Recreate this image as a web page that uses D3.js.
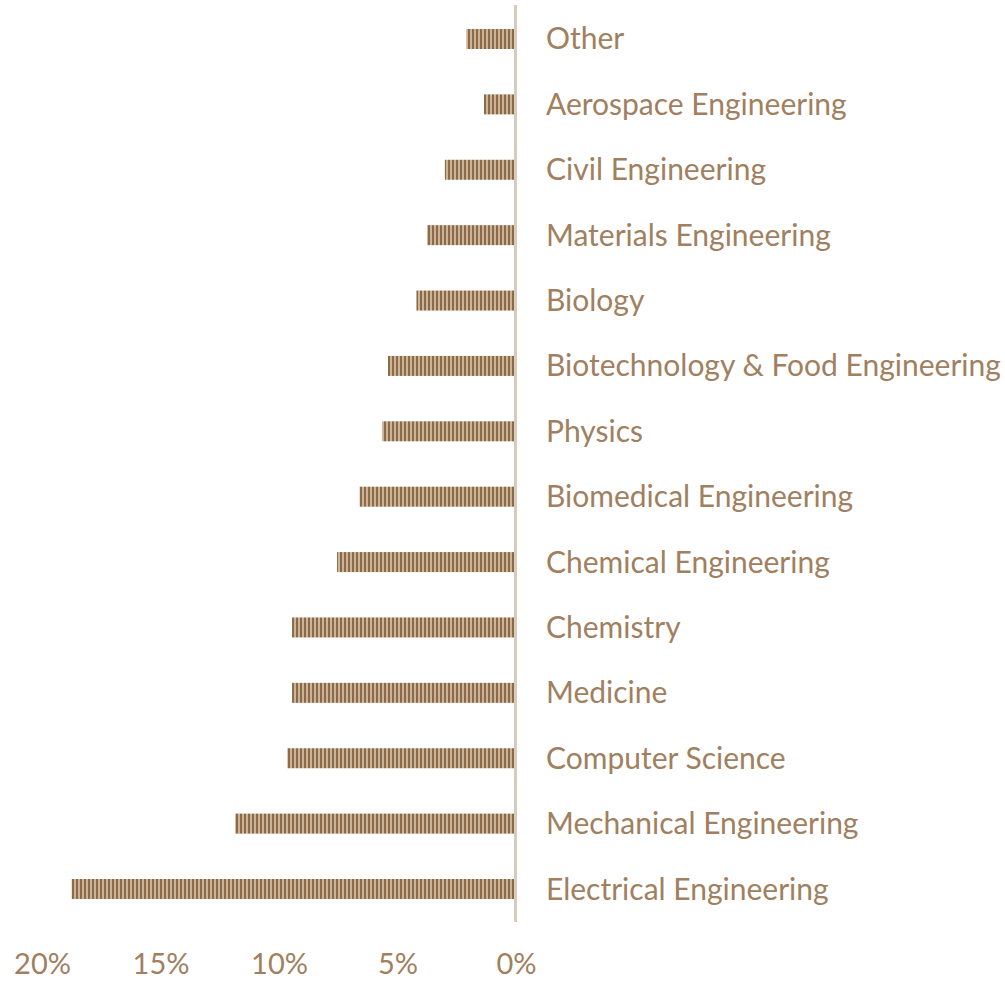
<!DOCTYPE html>
<html><head><meta charset="utf-8">
<script src="https://cdn.jsdelivr.net/npm/d3@7"></script>
<style>body{margin:0;background:#fff}svg{display:block}</style>
</head><body>
<script>
const categories = ["Other","Aerospace Engineering","Civil Engineering","Materials Engineering","Biology","Biotechnology & Food Engineering","Physics","Biomedical Engineering","Chemical Engineering","Chemistry","Medicine","Computer Science","Mechanical Engineering","Electrical Engineering"];
const values = [2.1,1.35,3.0,3.75,4.2,5.4,5.65,6.6,7.55,9.45,9.45,9.65,11.85,18.75];
const tickValues = [20,15,10,5,0];

const W=1005,H=981;
const svg=d3.select("body").append("svg").attr("width",W).attr("height",H);
const defs=svg.append("defs");
const pat=defs.append("pattern").attr("id","stripes").attr("patternUnits","userSpaceOnUse").attr("width",4).attr("height",4);
pat.append("rect").attr("width",4).attr("height",4).attr("fill","#cbb497");
pat.append("rect").attr("width",2).attr("height",4).attr("fill","#8a6a48");

const x=d3.scaleLinear().domain([0,20]).range([516,42]);
const y=d3.scaleBand().domain(categories).range([6.3,921.7]).paddingInner(0.694).paddingOuter(0.347);

svg.append("g").selectAll("rect").data(values).join("rect")
 .attr("x",d=>x(d)).attr("width",d=>x(0)-x(d))
 .attr("y",(d,i)=>y(categories[i])).attr("height",y.bandwidth())
 .attr("fill","url(#stripes)");

svg.append("line").attr("x1",515.5).attr("x2",515.5).attr("y1",5).attr("y2",922)
 .attr("stroke","#d9cbbb").attr("stroke-width",3);

svg.append("g").selectAll("text").data(categories).join("text")
 .attr("x",546).attr("y",d=>y(d)+y.bandwidth()/2).attr("dy","0.35em")
 .attr("font-family","Lato, sans-serif").attr("font-size",30).attr("fill","#a0805f")
 .text(d=>d);

const ax=d3.axisBottom(x).tickValues(tickValues).tickFormat(d=>d+"%").tickSize(0).tickPadding(0);
const g=svg.append("g").attr("transform","translate(0,953)").call(ax);
g.select(".domain").remove();
g.selectAll("text").attr("font-family","Lato, sans-serif").attr("font-size",29).attr("fill","#a0805f");
</script>
</body></html>
